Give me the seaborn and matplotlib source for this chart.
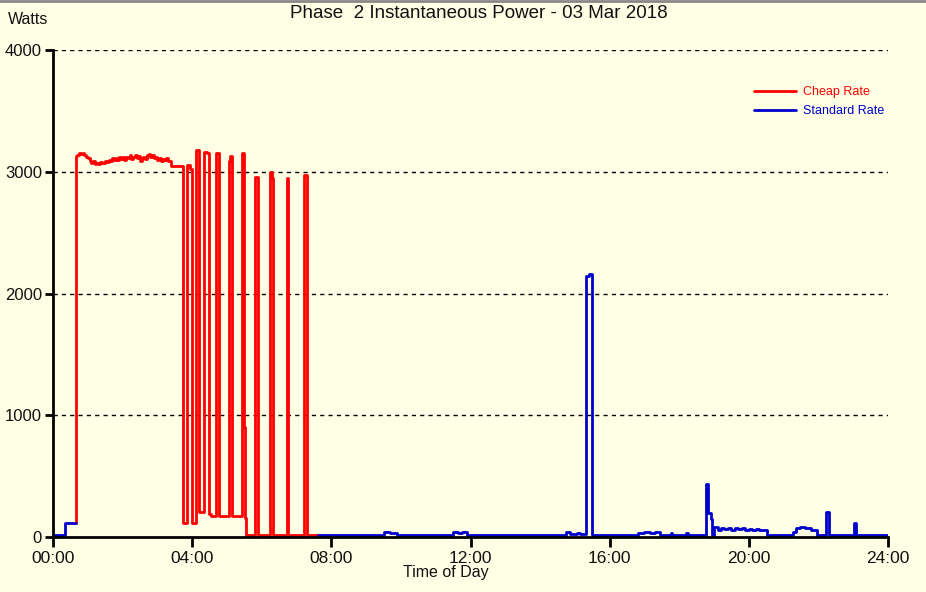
import pandas as pd
import matplotlib.pyplot as plt
import seaborn as sns
from matplotlib.lines import Line2D

# Cheap rate (red) - hours and watts, drawn as steps
cheap_hours = [0.64, 0.65, 0.70, 0.75, 0.80, 0.85, 0.90, 0.95, 1.00, 1.05, 1.10,
               1.15, 1.20, 1.25, 1.30, 1.35, 1.40, 1.45, 1.50, 1.55, 1.60,
               1.65, 1.70, 1.75, 1.80, 1.85, 1.90, 1.95, 2.00, 2.05, 2.10,
               2.15, 2.20, 2.25, 2.30, 2.35, 2.40, 2.45, 2.50, 2.55, 2.60,
               2.65, 2.70, 2.75, 2.80, 2.85, 2.90, 2.95, 3.00, 3.05, 3.10,
               3.15, 3.20, 3.25, 3.30, 3.35, 3.40,
               3.74, 3.86, 3.93, 3.99, 4.11, 4.20, 4.35, 4.42, 4.49, 4.55,
               4.69, 4.78, 5.06, 5.10, 5.14, 5.44, 5.50, 5.52, 5.56,
               5.81, 5.88, 6.24, 6.29, 6.33, 6.72, 6.76, 7.20, 7.29, 7.63]
cheap_watts = [112, 3130, 3140, 3150, 3145, 3150, 3140, 3120, 3110, 3090, 3075,
               3085, 3060, 3070, 3065, 3080, 3075, 3070, 3090, 3080, 3100,
               3085, 3110, 3095, 3115, 3100, 3120, 3105, 3125, 3100, 3120,
               3110, 3135, 3105, 3125, 3140, 3115, 3130, 3090, 3110, 3125,
               3105, 3135, 3145, 3120, 3135, 3110, 3125, 3100, 3115, 3090,
               3105, 3095, 3110, 3085, 3090, 3050,
               117, 3055, 3025, 117, 3178, 205, 3165, 3150, 190, 175,
               3150, 175, 3085, 3130, 175, 3150, 900, 160, 20,
               2955, 20, 3000, 2950, 20, 2945, 20, 2970, 20, 20]

# Standard rate (blue) - two stretches: before and after the cheap period
std_early_hours = [0.00, 0.35, 0.65]
std_early_watts = [18, 112, 112]

std_late_hours = [7.63, 9.50, 9.70, 9.90, 11.50, 11.65, 11.75, 11.90,
                  14.75, 14.85, 15.05, 15.15, 15.32, 15.40, 15.48,
                  16.80, 17.00, 17.15, 17.30, 17.45, 17.75, 17.80, 18.20, 18.25,
                  18.77, 18.84, 18.90, 18.95,
                  19.00, 19.10, 19.20, 19.30, 19.40, 19.50, 19.60, 19.70, 19.80,
                  19.90, 20.00, 20.10, 20.20, 20.30, 20.40, 20.53,
                  21.26, 21.35, 21.47, 21.60, 21.80, 21.95,
                  22.21, 22.29, 23.02, 23.08, 24.00]
std_late_watts = [20, 40, 35, 20, 45, 35, 45, 20,
                  45, 25, 35, 25, 2140, 2160, 20,
                  30, 40, 30, 40, 20, 35, 20, 35, 20,
                  435, 195, 150, 20,
                  85, 60, 70, 65, 75, 60, 70, 65, 70,
                  60, 65, 60, 65, 55, 60, 20,
                  45, 70, 85, 70, 60, 20,
                  208, 20, 112, 20, 20]

frames = [
    pd.DataFrame({"hour": cheap_hours, "watts": cheap_watts, "rate": "Cheap Rate", "seg": 0}),
    pd.DataFrame({"hour": std_early_hours, "watts": std_early_watts, "rate": "Standard Rate", "seg": 1}),
    pd.DataFrame({"hour": std_late_hours, "watts": std_late_watts, "rate": "Standard Rate", "seg": 2}),
]
df = pd.concat(frames, ignore_index=True)

bg = "#FFFFE6"
sns.set_theme(style="white")
plt.rcParams["font.family"] = ["Liberation Sans", "DejaVu Sans"]

fig = plt.figure(figsize=(9.26, 5.92), dpi=100, facecolor=bg)
ax = fig.add_axes([53 / 926, 55 / 592, 835 / 926, 487 / 592])
ax.set_facecolor(bg)

palette = {"Cheap Rate": "#FF0000", "Standard Rate": "#0000CC"}
sns.lineplot(data=df, x="hour", y="watts", hue="rate", units="seg", estimator=None,
             palette=palette, drawstyle="steps-post", linewidth=2, sort=False, ax=ax)

ax.set_xlim(0, 24)
ax.set_ylim(0, 4000)
ax.set_xticks([0, 4, 8, 12, 16, 20, 24])
ax.set_xticklabels(["00:00", "04:00", "08:00", "12:00", "16:00", "20:00", "24:00"])
ax.set_yticks([0, 1000, 2000, 3000, 4000])
ax.set_yticklabels(["0", "1000", "2000", "3000", "4000"])
ax.tick_params(axis="x", direction="out", length=7, width=2, color="black",
               labelsize=12.5, labelcolor="#111111", pad=3, bottom=True)
ax.tick_params(axis="y", direction="out", length=6, width=2, color="black",
               labelsize=12, labelcolor="#111111", pad=2, left=True)
ax.set_xlabel("")
ax.set_ylabel("")

for y in [1000, 2000, 3000, 4000]:
    ax.axhline(y, color="black", linestyle=(0, (3, 3)), linewidth=1, zorder=0)

for side in ["top", "right"]:
    ax.spines[side].set_visible(False)
for side in ["left", "bottom"]:
    ax.spines[side].set_color("black")
    ax.spines[side].set_linewidth(2)

handles, labels = ax.get_legend_handles_labels()
leg = ax.legend(handles, labels, loc="upper left", bbox_to_anchor=(748 / 926, 1 - 80 / 592),
                bbox_transform=fig.transFigure, frameon=False, fontsize=9,
                handlelength=3.3, handletextpad=0.6, labelspacing=0.55, borderpad=0,
                labelcolor="linecolor")

fig.text(479 / 926, 1 - 14 / 592, "Phase  2 Instantaneous Power - 03 Mar 2018",
         ha="center", va="center", fontsize=13.5, color="#111111")
fig.text(8 / 926, 1 - 19 / 592, "Watts", ha="left", va="center", fontsize=11.5, color="#111111")
fig.text(446 / 926, 1 - 573 / 592, "Time of Day", ha="center", va="center", fontsize=11.5, color="#111111")

# grey window edge along the top
fig.add_artist(Line2D([0, 1], [1 - 1 / 592, 1 - 1 / 592], transform=fig.transFigure,
                      color="#888888", linewidth=2))

fig.savefig("out.png", dpi=100, facecolor=bg)
